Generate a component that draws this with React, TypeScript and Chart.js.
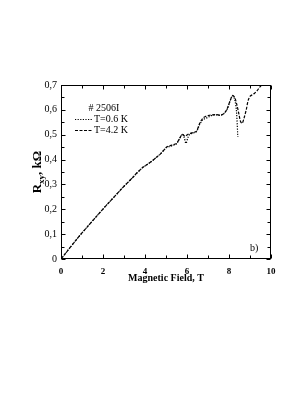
import { useEffect, useRef } from "react";
import { Chart, registerables } from "chart.js";

Chart.register(...registerables);

// Magnetic field (T) and Hall resistance R_xy (kOhm), T = 0.6 K (dotted)
const fieldLow = [0, 0.3, 0.6, 1.0, 1.3, 1.6, 2.0, 2.3, 2.6, 2.9, 3.1, 3.3, 3.45, 3.6, 3.75, 3.9, 4.1, 4.3, 4.5, 4.7, 4.9, 5.05, 5.2, 5.35, 5.5, 5.65, 5.78, 5.87, 5.95, 6.05, 6.15, 6.3, 6.45, 6.6, 6.75, 6.9, 7.05, 7.2, 7.4, 7.6, 7.75, 7.9, 8.05, 8.17, 8.27, 8.35, 8.42];
const rLow = [0, 0.032, 0.064, 0.105, 0.134, 0.163, 0.201, 0.229, 0.256, 0.284, 0.301, 0.318, 0.331, 0.345, 0.357, 0.369, 0.380, 0.392, 0.406, 0.420, 0.438, 0.450, 0.453, 0.458, 0.463, 0.484, 0.503, 0.488, 0.465, 0.490, 0.503, 0.507, 0.512, 0.540, 0.560, 0.566, 0.572, 0.578, 0.580, 0.578, 0.584, 0.600, 0.635, 0.658, 0.642, 0.600, 0.492];

// T = 4.2 K (dashed)
const fieldHigh = [0, 0.3, 0.6, 1.0, 1.3, 1.6, 2.0, 2.3, 2.6, 2.9, 3.1, 3.3, 3.45, 3.6, 3.75, 3.9, 4.1, 4.3, 4.5, 4.7, 4.9, 5.05, 5.2, 5.35, 5.5, 5.65, 5.78, 5.9, 6.02, 6.15, 6.3, 6.45, 6.6, 6.75, 6.9, 7.05, 7.2, 7.4, 7.6, 7.75, 7.9, 8.05, 8.17, 8.27, 8.37, 8.47, 8.55, 8.63, 8.72, 8.82, 8.92, 9.02, 9.12, 9.22, 9.35, 9.45, 9.55];
const rHigh = [0, 0.032, 0.064, 0.105, 0.134, 0.163, 0.201, 0.229, 0.256, 0.284, 0.301, 0.318, 0.331, 0.345, 0.357, 0.369, 0.380, 0.392, 0.406, 0.420, 0.438, 0.452, 0.456, 0.460, 0.465, 0.486, 0.501, 0.494, 0.500, 0.505, 0.509, 0.514, 0.545, 0.566, 0.574, 0.578, 0.580, 0.581, 0.579, 0.585, 0.602, 0.636, 0.657, 0.650, 0.622, 0.584, 0.553, 0.546, 0.568, 0.600, 0.640, 0.656, 0.661, 0.667, 0.678, 0.690, 0.700];

const xMajorTicks = [0, 2, 4, 6, 8, 10];
const xMinorTicks = [1, 3, 5, 7, 9];
const yMajorTicks = [0, 0.1, 0.2, 0.3, 0.4, 0.5, 0.6, 0.7];
const yMinorTicks = [0.05, 0.15, 0.25, 0.35, 0.45, 0.55, 0.65];

const seriesLabels = ["T=0.6 K", "T=4.2 K"];
const sampleLabel = "# 2506I";
const panelLabel = "b)";
const xTitle = "Magnetic Field, T";

const SERIF = '"Liberation Serif", "Times New Roman", serif';
const DOTTED = [1.2, 1.4];
const DASHED = [3, 1.5];

const decorPlugin = {
  id: "decor",
  afterDraw(chart: any) {
    const { ctx, chartArea } = chart;
    const { left, right, top, bottom } = chartArea;
    const xs = chart.scales.x;
    const ys = chart.scales.y;
    ctx.save();
    ctx.strokeStyle = "#000";
    ctx.fillStyle = "#000";
    ctx.lineWidth = 1;
    ctx.setLineDash([]);
    const L = Math.round(left) + 0.5;
    const R = Math.round(right) - 0.5;
    const T = Math.round(top) + 0.5;
    const B = Math.round(bottom) - 0.5;
    ctx.strokeRect(L, T, R - L, B - T);

    const tickX = (v: number, len: number) => {
      const p = Math.round(xs.getPixelForValue(v)) + 0.5;
      ctx.beginPath();
      ctx.moveTo(p, B);
      ctx.lineTo(p, B - len);
      ctx.moveTo(p, T);
      ctx.lineTo(p, T + len);
      ctx.stroke();
    };
    const tickY = (v: number, len: number) => {
      const p = Math.round(ys.getPixelForValue(v)) + 0.5;
      ctx.beginPath();
      ctx.moveTo(L, p);
      ctx.lineTo(L + len, p);
      ctx.moveTo(R, p);
      ctx.lineTo(R - len, p);
      ctx.stroke();
    };
    xMajorTicks.forEach((v) => tickX(v, 4));
    xMinorTicks.forEach((v) => tickX(v, 3));
    yMajorTicks.forEach((v) => tickY(v, 4));
    yMinorTicks.forEach((v) => tickY(v, 3));

    // legend
    ctx.textBaseline = "middle";
    ctx.font = `10px ${SERIF}`;
    ctx.textAlign = "center";
    ctx.fillText(sampleLabel, 104, 108);
    ctx.textAlign = "left";
    const dashes = [DOTTED, DASHED];
    seriesLabels.forEach((lab, i) => {
      const yy = 119 + i * 11;
      ctx.save();
      ctx.setLineDash(dashes[i]);
      ctx.lineWidth = 1;
      ctx.beginPath();
      ctx.moveTo(75, yy + 0.5);
      ctx.lineTo(92, yy + 0.5);
      ctx.stroke();
      ctx.restore();
      ctx.fillText(lab, 94, yy);
    });

    // panel label
    ctx.fillText(panelLabel, 250, 248);

    // x title
    ctx.font = `bold 10px ${SERIF}`;
    ctx.textAlign = "center";
    ctx.fillText(xTitle, (left + right) / 2, 278);

    // y title with subscript
    ctx.save();
    ctx.translate(36, 172);
    ctx.rotate(-Math.PI / 2);
    const big = `bold 13px ${SERIF}`;
    const small = `bold 9px ${SERIF}`;
    ctx.font = big;
    const wR = ctx.measureText("R").width;
    const wRest = ctx.measureText(", kΩ").width;
    ctx.font = small;
    const wSub = ctx.measureText("xy").width;
    const total = wR + wSub + wRest;
    let cx = -total / 2;
    ctx.textAlign = "left";
    ctx.textBaseline = "alphabetic";
    ctx.font = big;
    ctx.fillText("R", cx, 5);
    cx += wR;
    ctx.font = small;
    ctx.fillText("xy", cx, 8);
    cx += wSub;
    ctx.font = big;
    ctx.fillText(", kΩ", cx, 5);
    ctx.restore();

    ctx.restore();
  },
};

export default function App() {
  const ref = useRef<HTMLCanvasElement>(null);
  useEffect(() => {
    if (!ref.current) return;
    const chart = new Chart(ref.current, {
      type: "line",
      data: {
        datasets: [
          {
            label: seriesLabels[0],
            data: fieldLow.map((b, i) => ({ x: b, y: rLow[i] })),
            borderColor: "#000",
            borderWidth: 1.2,
            borderDash: DOTTED,
            pointRadius: 0,
            tension: 0.3,
            fill: false,
          },
          {
            label: seriesLabels[1],
            data: fieldHigh.map((b, i) => ({ x: b, y: rHigh[i] })),
            borderColor: "#000",
            borderWidth: 1.2,
            borderDash: DASHED,
            pointRadius: 0,
            tension: 0.3,
            fill: false,
          },
        ],
      },
      options: {
        animation: false,
        responsive: false,
        devicePixelRatio: 1,
        layout: { padding: { left: 0, top: 85, right: 35, bottom: 117 } },
        plugins: { legend: { display: false }, tooltip: { enabled: false } },
        scales: {
          x: {
            type: "linear",
            min: 0,
            max: 10,
            afterFit: (s: any) => {
              s.height = 20;
            },
            grid: { display: false, drawTicks: false },
            border: { display: false },
            ticks: {
              stepSize: 2,
              padding: 7,
              color: "#000",
              font: { family: SERIF, size: 9, weight: "bold" },
              maxRotation: 0,
              autoSkip: false,
            },
          },
          y: {
            type: "linear",
            min: 0,
            max: 0.7,
            afterFit: (s: any) => {
              s.width = 61;
            },
            grid: { display: false, drawTicks: false },
            border: { display: false },
            ticks: {
              stepSize: 0.1,
              padding: 4,
              color: "#000",
              font: { family: SERIF, size: 10 },
              callback: (v: any) => (Number(v) === 0 ? "0" : Number(v).toFixed(1).replace(".", ",")),
            },
          },
        },
      },
      plugins: [decorPlugin],
    });
    return () => chart.destroy();
  }, []);
  return (
    <div style={{ position: "fixed", left: 0, top: 0, width: 306, height: 396, background: "#fff" }}>
      <canvas ref={ref} width={306} height={396} style={{ width: 306, height: 396 }} />
    </div>
  );
}
